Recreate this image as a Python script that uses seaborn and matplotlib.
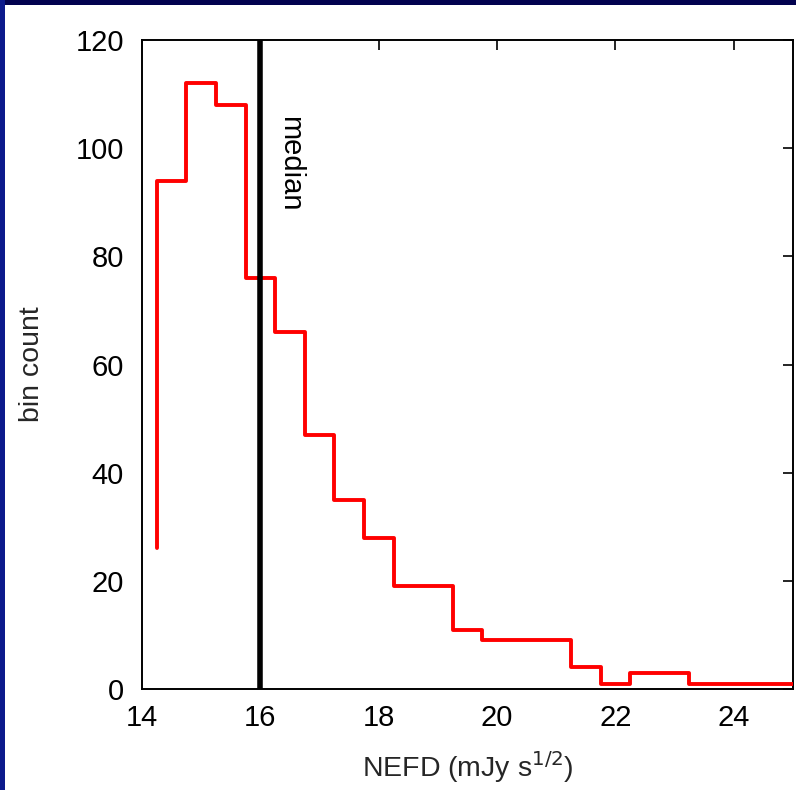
import matplotlib
matplotlib.use("Agg")
import matplotlib.pyplot as plt
import matplotlib.patches as mpatches
import seaborn as sns
import pandas as pd
import numpy as np

# ---- data ----
bin_edges = [14.25, 14.75, 15.25, 15.75, 16.25, 16.75, 17.25, 17.75, 18.25, 18.75,
             19.25, 19.75, 20.25, 20.75, 21.25, 21.75, 22.25, 22.75, 23.25, 25.0]
bin_counts = [94, 112, 108, 76, 66, 47, 35, 28, 19, 19,
              11, 9, 9, 9, 4, 1, 3, 3, 1]
start_count = 26
median_value = 16.0
x_ticks = [14, 16, 18, 20, 22, 24]
y_ticks = [0, 20, 40, 60, 80, 100, 120]

sns.set_style("white")
plt.rcParams['font.family'] = ['Liberation Sans', 'DejaVu Sans']

fig = plt.figure(figsize=(7.96, 7.90), dpi=100)
fig.patch.set_facecolor("white")
ax = fig.add_axes([142/796, 101/790, 651/796, 649/790])

# step outline (steps-post)
xs = [bin_edges[0]] + bin_edges
ys = [start_count] + bin_counts + [bin_counts[-1]]
df = pd.DataFrame({"x": xs, "y": ys})
sns.lineplot(data=df, x="x", y="y", sort=False, estimator=None,
             drawstyle="steps-post", color="#ff0000", linewidth=2.8, ax=ax,
             zorder=3)

ax.axvline(median_value, color="black", linewidth=4.0, zorder=4)
ax.text(16.5, 106, "median", rotation=-90, ha="center", va="top",
        fontsize=21, color="black")

ax.set_xlim(14, 25)
ax.set_ylim(0, 120)
ax.set_xticks(x_ticks)
ax.set_yticks(y_ticks)
ax.tick_params(direction="in", length=7, width=1.2, labelsize=21, pad=11,
               top=True, right=True, colors="black")
ax.tick_params(axis="y", pad=13)
for s in ax.spines.values():
    s.set_color("black")
    s.set_linewidth(1.4)
    s.set_visible(True)

ax.set_xlabel(r"NEFD (mJy s$^{1/2}$)", fontsize=20.5, labelpad=12)
ax.set_ylabel("bin count", fontsize=20.5, labelpad=22)

# dark blue frame on top and left of the slide
fig.patches.append(mpatches.Rectangle((0, 1 - 5/790), 1, 5/790, transform=fig.transFigure,
                                      facecolor="#02024f", edgecolor="none", zorder=10))
fig.patches.append(mpatches.Rectangle((0, 0), 5/796, 1, transform=fig.transFigure,
                                      facecolor="#0c1a8c", edgecolor="none", zorder=10))

fig.savefig("out.png", dpi=100, facecolor="white")
